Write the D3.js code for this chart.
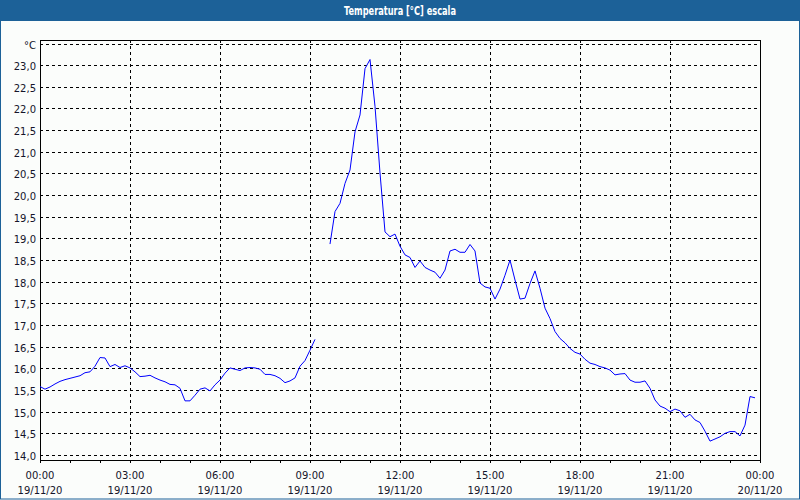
<!DOCTYPE html>
<html>
<head>
<meta charset="utf-8">
<script src="https://cdn.jsdelivr.net/npm/d3@7"></script>
<style>
  html, body { margin: 0; padding: 0; background: #fbfdfb; }
  svg { display: block; }
</style>
</head>
<body>
<svg id="chart" width="800" height="500"></svg>
<script>
// ---- data ----
const title = "Temperatura [°C] escala";
const unitLabel = "°C";
const startTime = "2020-11-19T00:00";
const stepMinutes = 10;
// temperature readings every 10 minutes from 19/11/20 00:00 (null = missing)
const temps = [
  15.58, 15.52, 15.57, 15.64, 15.70, 15.74, 15.77, 15.80, 15.83, 15.90,
  15.92, 16.05, 16.25, 16.24, 16.04, 16.09, 16.02, 16.06, 16.01, 15.92,
  15.81, 15.82, 15.84, 15.78, 15.73, 15.69, 15.63, 15.62, 15.54, 15.25,
  15.25, 15.38, 15.52, 15.55, 15.48, 15.62, 15.73, 15.89, 16.01, 15.98,
  15.95, 16.01, 16.02, 16.01, 15.98, 15.86, 15.86, 15.83, 15.77, 15.67,
  15.71, 15.78, 16.05, 16.18, 16.42, 16.67, null, null,
  18.87, 19.62, 19.81, 20.27, 20.58, 21.46, 21.85, 22.92, 23.13, 22.05,
  20.51, 19.15, 19.04, 19.10, 18.82, 18.62, 18.56, 18.33, 18.48, 18.33,
  18.27, 18.22, 18.08, 18.27, 18.71, 18.75, 18.68, 18.68, 18.86, 18.71,
  17.97, 17.88, 17.85, 17.60, 17.83, 18.15, 18.50, 18.04, 17.60, 17.62,
  17.96, 18.25, 17.85, 17.39, 17.15, 16.85, 16.69, 16.59, 16.46, 16.37,
  16.33, 16.21, 16.12, 16.09, 16.04, 16.01, 15.96, 15.85, 15.87, 15.88,
  15.73, 15.68, 15.68, 15.71, 15.54, 15.27, 15.13, 15.08, 15.00, 15.06,
  15.02, 14.87, 14.94, 14.81, 14.75, 14.55, 14.32, 14.37, 14.42, 14.50,
  14.54, 14.54, 14.44, 14.69, 15.35, 15.32
];
const yTicks = [14.0, 14.5, 15.0, 15.5, 16.0, 16.5, 17.0, 17.5, 18.0, 18.5, 19.0,
                19.5, 20.0, 20.5, 21.0, 21.5, 22.0, 22.5, 23.0, 23.5];
const xDomain = ["2020-11-19T00:00", "2020-11-20T00:00"];

// ---- chart ----
const svg = d3.select("#chart");
const W = 800, H = 500;
const plot = { left: 40, right: 760, top: 40, bottom: 460 };
const parse = d3.timeParse("%Y-%m-%dT%H:%M");
const t0 = parse(startTime);
const data = temps.map((v, i) => ({ t: d3.timeMinute.offset(t0, i * stepMinutes), v }));

const x = d3.scaleTime().domain(xDomain.map(parse)).range([plot.left, plot.right]);
const y = d3.scaleLinear().domain([14, 23.5]).range([455, 43.5]);

const textColor = "#14142a";

// outer frame
svg.append("rect").attr("x", 0).attr("y", 0).attr("width", W).attr("height", H)
  .attr("fill", "#fbfdfb");
svg.append("rect").attr("x", 0.5).attr("y", 0.5).attr("width", W - 1).attr("height", H - 1.5)
  .attr("fill", "none").attr("stroke", "#1c6198").attr("stroke-width", 1);
// title bar
svg.append("rect").attr("x", 0).attr("y", 0).attr("width", W).attr("height", 21)
  .attr("fill", "#1c6198");
svg.append("text").attr("x", W / 2).attr("y", 14.5).attr("text-anchor", "middle")
  .attr("fill", "#ffffff").attr("font-family", "'DejaVu Sans', sans-serif")
  .attr("font-weight", "bold").attr("font-size", "12px")
  .attr("textLength", 112).attr("lengthAdjust", "spacingAndGlyphs")
  .text(title);

const font = "'DejaVu Sans', Verdana, sans-serif";

// horizontal grid lines
svg.append("g").selectAll("line").data(yTicks).join("line")
  .attr("x1", plot.left).attr("x2", plot.right - 3)
  .attr("y1", d => Math.round(y(d)) + 0.5).attr("y2", d => Math.round(y(d)) + 0.5)
  .attr("stroke", "#000").attr("stroke-width", 1).attr("stroke-dasharray", "3,3")
  .attr("shape-rendering", "crispEdges");

// vertical grid lines every 3 hours
const vTicks = d3.timeHour.every(3).range(x.domain()[0], x.domain()[1]).slice(1);
svg.append("g").selectAll("line").data(vTicks).join("line")
  .attr("x1", d => Math.round(x(d)) + 0.5).attr("x2", d => Math.round(x(d)) + 0.5)
  .attr("y1", plot.top).attr("y2", plot.bottom)
  .attr("stroke", "#000").attr("stroke-width", 1).attr("stroke-dasharray", "3,3")
  .attr("shape-rendering", "crispEdges");

// y labels
svg.append("g").selectAll("text").data(yTicks).join("text")
  .attr("x", 36).attr("y", d => y(d) + 5)
  .attr("text-anchor", "end").attr("font-family", font).attr("font-size", "10px")
  .attr("fill", textColor)
  .text(d => d === 23.5 ? unitLabel : d3.format(".1f")(d).replace(".", ","));

// x axis with hourly ticks
const xAxis = d3.axisBottom(x).ticks(d3.timeHour.every(1)).tickSize(3).tickFormat("");
const gx = svg.append("g").attr("transform", `translate(0,${plot.bottom})`).call(xAxis);
gx.select(".domain").remove();
gx.selectAll("line").attr("stroke", "#000").attr("shape-rendering", "crispEdges");

// x labels every 3 hours
const labelTicks = d3.timeHour.every(3).range(x.domain()[0], d3.timeMinute.offset(x.domain()[1], 1));
const fmtT = d3.timeFormat("%H:%M"), fmtD = d3.timeFormat("%d/%m/%y");
const gl = svg.append("g").selectAll("g").data(labelTicks).join("g")
  .attr("transform", d => `translate(${x(d)},0)`);
gl.append("text").attr("y", 479).attr("text-anchor", "middle")
  .attr("font-family", font).attr("font-size", "10px").attr("fill", textColor).text(fmtT);
gl.append("text").attr("y", 494).attr("text-anchor", "middle")
  .attr("font-family", font).attr("font-size", "10px").attr("fill", textColor).text(fmtD);

// plot border (left, top, right, bottom)
svg.append("path")
  .attr("d", `M${plot.left + 0.5},${plot.bottom + 3}V${plot.top + 0.5}H${plot.right + 0.5}V${plot.bottom + 0.5}H${plot.left}`)
  .attr("fill", "none").attr("stroke", "#000").attr("stroke-width", 1)
  .attr("shape-rendering", "crispEdges");

// data line
const line = d3.line().defined(d => d.v !== null).x(d => x(d.t)).y(d => y(d.v));
svg.append("path").datum(data).attr("d", line)
  .attr("fill", "none").attr("stroke", "#0000ff").attr("stroke-width", 1);
</script>
</body>
</html>
